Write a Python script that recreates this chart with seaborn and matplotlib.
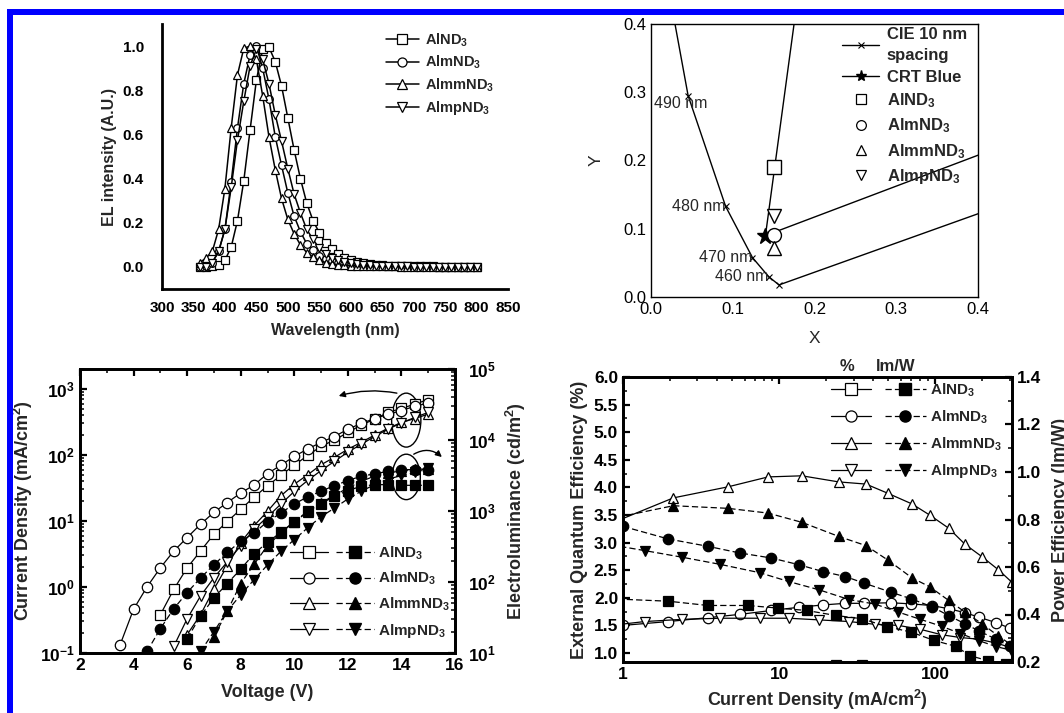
import numpy as np
import pandas as pd
import matplotlib
matplotlib.use("Agg")
import matplotlib.pyplot as plt
import seaborn as sns
from matplotlib.lines import Line2D
from matplotlib.patches import Ellipse, Rectangle
from matplotlib.legend_handler import HandlerTuple
from matplotlib.ticker import MultipleLocator, LogLocator, NullFormatter, FuncFormatter

sns.set_style("white")
plt.rcParams["font.family"] = ["Liberation Sans", "DejaVu Sans"]
plt.rcParams.update({
    "font.weight": "bold",
    "axes.labelweight": "bold",
    "mathtext.fontset": "custom",
    "mathtext.rm": "Liberation Sans:bold",
    "mathtext.it": "Liberation Sans:italic:bold",
    "mathtext.bf": "Liberation Sans:bold",
    "mathtext.default": "rm",
    "axes.edgecolor": "black",
    "xtick.color": "black",
    "ytick.color": "black",
})

# ---------------- data ----------------
compounds = ["AlND$_3$", "AlmND$_3$", "AlmmND$_3$", "AlmpND$_3$"]
markers = ["s", "o", "^", "v"]

# EL spectra (normalised)
wavelength_nm = list(range(360, 801, 10))
el_AlND3 = [0.0, 0.0, 0.005, 0.01, 0.03, 0.09, 0.21, 0.39, 0.62, 0.845, 0.985, 0.995, 0.93, 0.82, 0.675,
            0.53, 0.40, 0.29, 0.21, 0.155, 0.11, 0.08, 0.057, 0.04, 0.03, 0.022, 0.016, 0.012, 0.009, 0.007,
            0.006, 0.005, 0.004, 0.003, 0.003, 0.002, 0.002, 0.002, 0.001, 0.001, 0.001, 0.001, 0.0, 0.0, 0.0]
el_AlmND3 = [0.0, 0.005, 0.02, 0.07, 0.17, 0.385, 0.63, 0.83, 0.96, 1.0, 0.90, 0.76, 0.59, 0.46, 0.335,
             0.23, 0.16, 0.105, 0.075, 0.05, 0.035, 0.025, 0.018, 0.013, 0.01, 0.008, 0.006, 0.005, 0.004, 0.003,
             0.003, 0.002, 0.002, 0.002, 0.001, 0.001, 0.001, 0.001, 0.0, 0.0, 0.0, 0.0, 0.0, 0.0, 0.0]
el_AlmmND3 = [0.02, 0.04, 0.07, 0.17, 0.355, 0.63, 0.87, 0.99, 1.0, 0.94, 0.775, 0.59, 0.44, 0.31, 0.215,
              0.15, 0.10, 0.065, 0.045, 0.03, 0.02, 0.015, 0.01, 0.008, 0.006, 0.005, 0.004, 0.003, 0.003, 0.002,
              0.002, 0.002, 0.001, 0.001, 0.001, 0.001, 0.0, 0.0, 0.0, 0.0, 0.0, 0.0, 0.0, 0.0, 0.0]
el_AlmpND3 = [0.0, 0.0, 0.02, 0.07, 0.17, 0.36, 0.575, 0.75, 0.91, 0.985, 0.94, 0.83, 0.69, 0.57, 0.445,
              0.33, 0.245, 0.17, 0.125, 0.085, 0.06, 0.04, 0.03, 0.022, 0.016, 0.012, 0.009, 0.007, 0.005, 0.004,
              0.003, 0.003, 0.002, 0.002, 0.001, 0.001, 0.001, 0.001, 0.0, 0.0, 0.0, 0.0, 0.0, 0.0, 0.0]

# CIE 1931 spectral locus, 10 nm spacing (closed towards 700 nm)
cie_nm = [700, 450, 460, 470, 480, 490, 500]
cie_x = [0.7347, 0.1566, 0.1440, 0.1241, 0.0913, 0.0454, 0.0082]
cie_y = [0.2653, 0.0177, 0.0297, 0.0578, 0.1327, 0.2950, 0.5384]
# CRT gamut edges: green - blue - red
crt_x = [0.21, 0.14, 0.67]
crt_y = [0.71, 0.09, 0.33]
dev_cie_x = [0.151, 0.151, 0.151, 0.150]
dev_cie_y = [0.190, 0.091, 0.072, 0.119]

# J-V-L
voltage = [3.5, 4.0, 4.5, 5.0, 5.5, 6.0, 6.5, 7.0, 7.5, 8.0, 8.5, 9.0,
           9.5, 10.0, 10.5, 11.0, 11.5, 12.0, 12.5, 13.0, 13.5, 14.0, 14.5, 15.0]
N = None
j_AlND3 = [N, N, N, 0.38, 0.92, 1.95, 3.5, 6.3, 9.8, 15, 23, 34,
           49, 70, 98, 135, 168, 219, 284, 347, 441, 505, 588, 690]
j_AlmND3 = [0.134, 0.46, 1.0, 1.95, 3.5, 5.6, 8.9, 13.5, 19, 26.5, 35, 52,
            70, 95, 123, 155, 190, 245, 300, 355, 410, 470, 545, 612]
j_AlmmND3 = [N, N, N, N, N, 0.19, 0.38, 0.93, 2.1, 4.7, 8.5, 14,
             24, 36, 50, 71, 92, 122, 155, 200, 253, 310, 355, 415]
j_AlmpND3 = [N, N, N, N, 0.126, 0.33, 0.73, 1.38, 2.4, 4.2, 7.5, 11.5,
             18, 28, 41, 58, 80, 110, 145, 190, 245, 305, 370, 440]

lum_AlND3 = [N, N, N, N, N, 16, 33, 60, 95, 152, 250, 363,
             500, 710, 990, 1270, 1610, 1940, 2230, 2350, 2350, 2300, 2300, 2300]
lum_AlmND3 = [N, N, 10.5, 22, 42, 71, 114, 175, 262, 373, 490, 710,
              935, 1260, 1580, 1900, 2280, 2680, 3100, 3330, 3630, 3830, 3830, 3750]
lum_AlmmND3 = [N, N, N, N, N, N, N, 17, 39, 95, 178, 325,
               490, 710, 960, 1300, 1670, 2100, 2620, 3100, 3460, 3650, 3900, 3900]
lum_AlmpND3 = [N, N, N, N, N, N, 10.5, 20, 39, 66, 108, 174,
               270, 395, 580, 830, 1100, 1480, 1900, 2350, 2800, 3170, 3500, 4050]

# efficiencies at the same bias points
eqe_AlND3 = [N, N, N, N, N, 0.66, 0.68, 0.70, 0.72, 0.72, 0.78, 0.78,
             0.72, 0.70, 0.68, 0.66, 0.63, 0.60, 0.57, N, N, N, N, N]
eqe_AlmND3 = [N, N, 1.50, 1.57, 1.64, 1.70, 1.77, 1.83, 1.87, 1.90, 1.90, 1.91,
              1.89, 1.86, 1.80, 1.73, 1.65, 1.55, 1.45, N, N, N, N, N]
eqe_AlmmND3 = [N, N, N, N, N, N, N, 3.40, 3.81, 4.01, 4.19, 4.21,
               4.10, 4.06, 3.89, 3.70, 3.50, 3.26, 2.97, 2.74, 2.51, 2.28, N, N]
eqe_AlmpND3 = [N, N, N, N, N, N, 1.48, 1.57, 1.61, 1.63, 1.63, 1.63,
               1.60, 1.57, 1.52, 1.50, 1.43, 1.33, 1.28, 1.25, 1.18, 1.10, N, N]

pe_AlND3 = [N, N, N, N, 0.465, 0.456, 0.438, 0.438, 0.427, 0.417, 0.396, 0.382,
            0.349, 0.326, 0.291, 0.266, 0.226, 0.205, 0.19, N, N, N, N, N]
pe_AlmND3 = [N, N, 0.771, 0.718, 0.687, 0.659, 0.638, 0.609, 0.581, 0.560, 0.532, 0.494,
             0.466, 0.433, 0.394, 0.361, 0.331, 0.296, 0.266, N, N, N, N, N]
pe_AlmmND3 = [N, N, N, N, N, N, N, 0.81, 0.858, 0.847, 0.827, 0.788,
              0.729, 0.69, 0.628, 0.554, 0.517, 0.459, 0.41, 0.36, 0.31, 0.27, N, N]
pe_AlmpND3 = [N, N, N, N, N, N, 0.70, 0.669, 0.641, 0.611, 0.576, 0.539,
              0.504, 0.463, 0.444, 0.41, 0.38, 0.35, 0.32, 0.29, 0.265, 0.25, N, N]

j_sets = [j_AlND3, j_AlmND3, j_AlmmND3, j_AlmpND3]
lum_sets = [lum_AlND3, lum_AlmND3, lum_AlmmND3, lum_AlmpND3]
eqe_sets = [eqe_AlND3, eqe_AlmND3, eqe_AlmmND3, eqe_AlmpND3]
pe_sets = [pe_AlND3, pe_AlmND3, pe_AlmmND3, pe_AlmpND3]
el_sets = [el_AlND3, el_AlmND3, el_AlmmND3, el_AlmpND3]


def arr(v):
    return np.array([np.nan if a is None else a for a in v], dtype=float)


# ---------------- figure ----------------
W, H = 1064, 713
fig = plt.figure(figsize=(W / 100, H / 100), dpi=100)
fig.patch.set_facecolor("white")


def px_axes(left, top, right, bottom):
    return [left / W, 1 - bottom / H, (right - left) / W, (bottom - top) / H]


dash = (0, (5, 2.5))
open_kw = dict(color="black", markerfacecolor="white", markeredgecolor="black",
               markeredgewidth=0.9, estimator=None, sort=False, legend=False)
fill_kw = dict(color="black", markerfacecolor="black", markeredgecolor="black",
               markeredgewidth=0.9, estimator=None, sort=False, legend=False)

# ---- EL spectra ----
ax1 = fig.add_axes(px_axes(162, 24, 508, 289))
for el, mk in zip(el_sets, markers):
    sns.lineplot(x=wavelength_nm, y=el, ax=ax1, marker=mk, markersize=5.5, linewidth=1.1, **open_kw)
ax1.set_xlim(300, 850)
ax1.set_ylim(-0.1, 1.1)
ax1.xaxis.set_major_locator(MultipleLocator(50))
ax1.xaxis.set_minor_locator(MultipleLocator(25))
ax1.yaxis.set_major_locator(MultipleLocator(0.2))
ax1.yaxis.set_minor_locator(MultipleLocator(0.1))
ax1.yaxis.set_major_formatter(FuncFormatter(lambda v, _: f"{v:.1f}"))
for s in ["top", "right"]:
    ax1.spines[s].set_visible(False)
for s in ["left", "bottom"]:
    ax1.spines[s].set_linewidth(2)
ax1.tick_params(which="major", direction="out", length=5, width=1.6, labelsize=11)
ax1.tick_params(axis="y", which="major", pad=8)
ax1.tick_params(which="minor", direction="out", length=3, width=1.2)
ax1.set_xlabel("Wavelength (nm)", fontsize=11.5, labelpad=6)
ax1.set_ylabel("EL intensity (A.U.)", fontsize=11.5, labelpad=4)
h1 = [Line2D([], [], color="k", lw=1.1, marker=mk, ms=6.5, mfc="white", mec="k", mew=0.9) for mk in markers]
ax1.legend(h1, compounds, loc="upper left", bbox_to_anchor=(0.625, 1.0), frameon=False,
           fontsize=10.5, handlelength=2.3, handletextpad=0.4, labelspacing=0.35, borderpad=0)

# ---- CIE diagram ----
ax2 = fig.add_axes(px_axes(651, 24, 978, 297))
sns.lineplot(x=cie_x, y=cie_y, ax=ax2, color="black", linewidth=1, marker="x", markersize=5,
             markeredgecolor="black", markeredgewidth=0.8, estimator=None, sort=False, legend=False)
sns.lineplot(x=crt_x, y=crt_y, ax=ax2, color="black", linewidth=1, estimator=None, sort=False, legend=False)
ax2.plot(crt_x[1], crt_y[1], marker="*", ms=12, color="black", ls="none")
for x, y, mk in zip(dev_cie_x, dev_cie_y, markers):
    ax2.plot(x, y, marker=mk, ms=10, mfc="white", mec="black", mew=1, ls="none")
for nm, x, y in zip(cie_nm, cie_x, cie_y):
    if nm in (460, 470, 480):
        ax2.text(x, y, f"{nm} nm", ha="right", va="center", fontsize=11.5, fontweight="normal")
    elif nm == 490:
        ax2.text(x - 0.042, y - 0.012, f"{nm} nm", ha="left", va="center", fontsize=11.5, fontweight="normal")
ax2.set_xlim(0, 0.4)
ax2.set_ylim(0, 0.4)
t = [0.0, 0.1, 0.2, 0.3, 0.4]
ax2.set_xticks(t, [f"{v:.1f}" for v in t], fontweight="normal", fontsize=12)
ax2.set_yticks(t, [f"{v:.1f}" for v in t], fontweight="normal", fontsize=12)
for s in ax2.spines.values():
    s.set_linewidth(1)
ax2.tick_params(direction="in", length=4, width=1, top=False, right=False)
ax2.set_xlabel("X", fontsize=12.5, fontweight="normal", labelpad=10)
ax2.set_ylabel("Y", fontsize=12.5, fontweight="normal", labelpad=14)
h2 = [Line2D([], [], color="k", lw=1, marker="x", ms=5, mew=0.8),
      Line2D([], [], color="k", lw=1, marker="*", ms=8)]
h2 += [Line2D([], [], ls="none", marker=mk, ms=7, mfc="white", mec="k", mew=0.9) for mk in markers]
leg2 = ax2.legend(h2, ["CIE 10 nm\nspacing", "CRT Blue"] + compounds, loc="upper left",
                  bbox_to_anchor=(0.56, 1.02), frameon=False, fontsize=12, handlelength=2.2,
                  handletextpad=0.45, labelspacing=0.4, borderpad=0)
for txt in leg2.get_texts():
    txt.set_linespacing(1.5)

# ---- J-V-L ----
ax3 = fig.add_axes(px_axes(80, 369, 455, 653))
ax3.set_yscale("log")
ax3r = ax3.twinx()
ax3r.set_yscale("log")
v = np.array(voltage)
for j, lum, mk in zip(j_sets, lum_sets, markers):
    sns.lineplot(x=v, y=arr(j), ax=ax3, marker=mk, markersize=7.5, linewidth=0.9, **open_kw)
    sns.lineplot(x=v, y=arr(lum), ax=ax3r, marker=mk, markersize=7.5, linewidth=0.9, linestyle=dash, **fill_kw)
ax3.set_xlim(2, 16)
ax3.set_ylim(0.1, 2000)
ax3r.set_ylim(10, 1e5)
ax3.xaxis.set_major_locator(MultipleLocator(2))
ax3.xaxis.set_minor_locator(MultipleLocator(1))
for a in (ax3, ax3r):
    a.yaxis.set_major_locator(LogLocator(base=10, numticks=10))
    a.yaxis.set_minor_locator(LogLocator(base=10, subs=np.arange(2, 10), numticks=10))
    a.yaxis.set_minor_formatter(NullFormatter())
    for s in a.spines.values():
        s.set_linewidth(2)
    a.tick_params(which="major", direction="in", length=5, width=1.6, labelsize=12.5)
    a.tick_params(which="minor", direction="in", length=3, width=1.1)
ax3.tick_params(which="both", top=True)
ax3r.tick_params(axis="y", which="major", pad=9)
ax3.set_xlabel("Voltage (V)", fontsize=13, labelpad=8)
ax3.set_ylabel("Current Density (mA/cm$^2$)", fontsize=13, labelpad=4)
ax3r.set_ylabel("Electroluminance (cd/m$^2$)", fontsize=13, labelpad=6)
ax3.add_patch(Ellipse((0.87, 0.82), 0.078, 0.19, transform=ax3.transAxes, fill=False, lw=1, ec="k"))
ax3.add_patch(Ellipse((0.87, 0.62), 0.075, 0.16, transform=ax3.transAxes, fill=False, lw=1, ec="k"))
ax3r.annotate("", xy=(0.69, 0.905), xytext=(0.845, 0.915), xycoords="axes fraction",
              arrowprops=dict(arrowstyle="-|>", connectionstyle="arc3,rad=0.12", color="k", lw=1,
                              mutation_scale=9, shrinkA=0, shrinkB=0))
ax3r.annotate("", xy=(0.965, 0.69), xytext=(0.89, 0.7), xycoords="axes fraction",
              arrowprops=dict(arrowstyle="-|>", connectionstyle="arc3,rad=-0.35", color="k", lw=1,
                              mutation_scale=9, shrinkA=0, shrinkB=0))


def pair_handles():
    hs = []
    for mk in markers:
        o = Line2D([], [], color="k", lw=0.9, marker=mk, ms=8, mfc="white", mec="k", mew=0.9)
        f = Line2D([], [], color="k", lw=0.9, ls=dash, marker=mk, ms=8, mfc="black", mec="k")
        hs.append((o, f))
    return hs


ax3r.legend(pair_handles(), compounds, handler_map={tuple: HandlerTuple(ndivide=None, pad=0.5)},
            loc="upper left", bbox_to_anchor=(0.54, 0.41), frameon=False, fontsize=11,
            handlelength=5.5, handletextpad=0.25, labelspacing=0.55, borderpad=0)

# ---- efficiencies ----
ax4 = fig.add_axes(px_axes(623, 377, 1012, 662))
ax4.set_xscale("log")
ax4r = ax4.twinx()
for j, eqe, pe, mk in zip(j_sets, eqe_sets, pe_sets, markers):
    jj = arr(j)
    e = arr(eqe)
    p = arr(pe)
    sns.lineplot(x=jj[~np.isnan(e)], y=e[~np.isnan(e)], ax=ax4, marker=mk, markersize=7.5, linewidth=0.9, **open_kw)
    sns.lineplot(x=jj[~np.isnan(p)], y=p[~np.isnan(p)], ax=ax4r, marker=mk, markersize=7.5, linewidth=0.9,
                 linestyle=dash, **fill_kw)
ax4.set_xlim(1, 310)
ax4.set_ylim(0.837, 6.0)
ax4r.set_ylim(0.2, 1.4)
ax4.yaxis.set_major_locator(MultipleLocator(0.5))
ax4.yaxis.set_minor_locator(MultipleLocator(0.25))
ax4.yaxis.set_major_formatter(FuncFormatter(lambda v, _: f"{v:.1f}"))
ax4r.yaxis.set_major_locator(MultipleLocator(0.2))
ax4r.yaxis.set_minor_locator(MultipleLocator(0.1))
ax4r.yaxis.set_major_formatter(FuncFormatter(lambda v, _: f"{v:.1f}"))
ax4.xaxis.set_major_locator(LogLocator(base=10, numticks=10))
ax4.xaxis.set_minor_locator(LogLocator(base=10, subs=np.arange(2, 10), numticks=10))
ax4.xaxis.set_major_formatter(FuncFormatter(lambda v, _: f"{v:g}"))
ax4.xaxis.set_minor_formatter(NullFormatter())
for a in (ax4, ax4r):
    for s in a.spines.values():
        s.set_linewidth(2)
    a.tick_params(which="major", direction="in", length=5, width=1.6, labelsize=12.5)
    a.tick_params(which="minor", direction="in", length=3, width=1.1)
ax4.tick_params(which="both", top=True)
ax4.set_xlabel("Current Density (mA/cm$^2$)", fontsize=13, labelpad=4)
ax4.set_ylabel("External Quantum Efficiency (%)", fontsize=13, labelpad=4)
ax4r.set_ylabel("Power Efficiency (lm/W)", fontsize=13, labelpad=8)
ax4r.legend(pair_handles(), compounds, handler_map={tuple: HandlerTuple(ndivide=None, pad=0.9)},
            loc="upper left", bbox_to_anchor=(0.515, 1.01), frameon=False, fontsize=11,
            handlelength=6.2, handletextpad=0.25, labelspacing=0.62, borderpad=0)
ax4.text(0.575, 1.01, "%", transform=ax4.transAxes, ha="center", va="bottom", fontsize=12)
ax4.text(0.70, 1.01, "lm/W", transform=ax4.transAxes, ha="center", va="bottom", fontsize=12)

# page frame
fig.add_artist(Rectangle((7 / W, 1 - 15 / H), 1, 6 / H, transform=fig.transFigure,
                         facecolor="#0000ff", edgecolor="none"))
fig.add_artist(Rectangle((7 / W, 0), 6 / W, 1 - 9 / H, transform=fig.transFigure,
                         facecolor="#0000ff", edgecolor="none"))

fig.savefig("out.png", dpi=100)
